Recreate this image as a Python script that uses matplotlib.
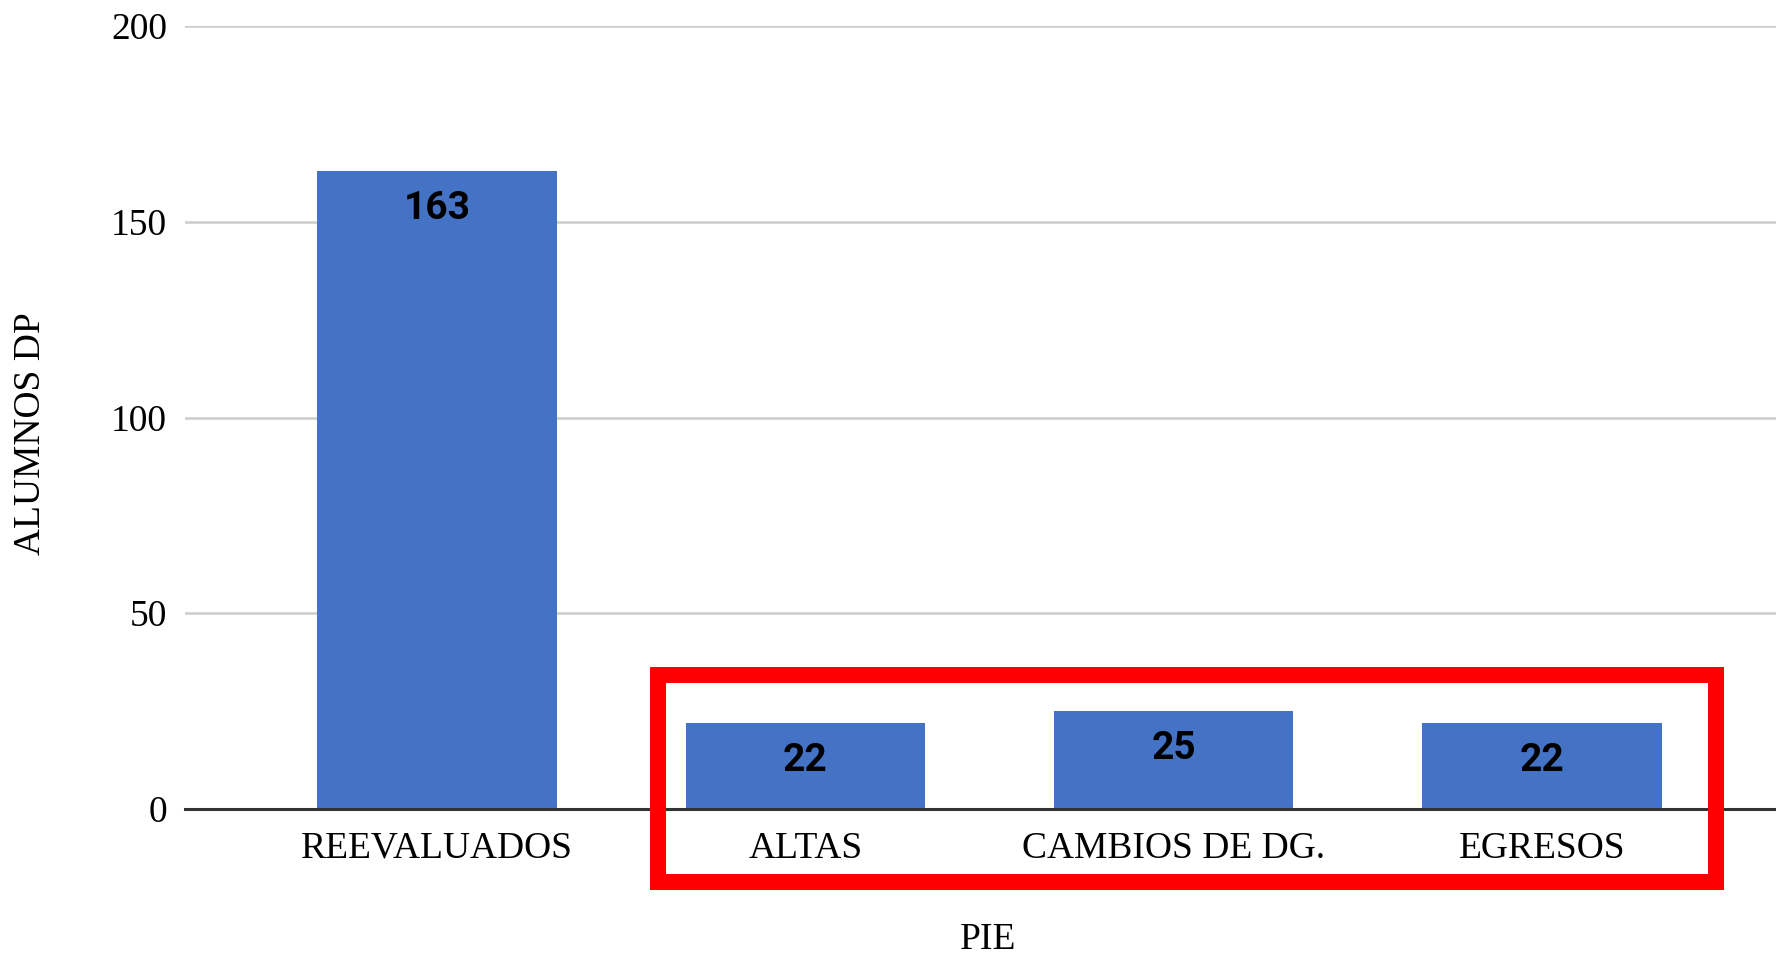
import matplotlib
matplotlib.use("Agg")
import matplotlib.pyplot as plt
from matplotlib.patches import Rectangle

categorias = ["REEVALUADOS", "ALTAS", "CAMBIOS DE DG.", "EGRESOS"]
alumnos = [163, 22, 25, 22]
yticks = [0, 50, 100, 150, 200]

azul = "#4472C4"
serif = ["Liberation Serif", "DejaVu Serif"]

fig = plt.figure(figsize=(17.76, 9.58), dpi=100)
ax = fig.add_axes([185 / 1776, 1 - 809 / 958, 1 - 185 / 1776, (809 - 26) / 958])

x = list(range(len(categorias)))
bars = ax.bar(x, alumnos, width=0.65, color=azul, zorder=2)

for b, v in zip(bars, alumnos):
    ax.annotate(str(v), (b.get_x() + b.get_width() / 2, v), xytext=(0, -27),
                textcoords="offset points", ha="center", va="center",
                fontsize=28, fontweight="bold", family=["Roboto", "DejaVu Sans"],
                color="black", zorder=3)

ax.set_xlim(-0.684, 3.635)
ax.set_ylim(0, 200)
ax.set_yticks(yticks)
ax.set_yticklabels([str(t) for t in yticks], family=serif, fontsize=27)
ax.set_xticks(x)
ax.set_xticklabels(categorias, family=serif, fontsize=27)
ax.tick_params(axis="y", length=0, pad=13)
ax.tick_params(axis="x", length=0, pad=16)

ax.grid(axis="y", color="#cccccc", linewidth=1.8, zorder=0)
for s in ["top", "right", "left"]:
    ax.spines[s].set_visible(False)
ax.spines["bottom"].set_color("#333333")
ax.spines["bottom"].set_linewidth(2.2)
ax.spines["bottom"].set_zorder(4)

ax.set_xlabel("PIE", family=serif, fontsize=27)
ax.xaxis.set_label_coords(0.505, -0.145)
ax.set_ylabel("ALUMNOS DP", family=serif, fontsize=27)
ax.yaxis.set_label_coords(-0.086, 0.48)

# recuadro rojo
fig.patches.append(Rectangle((658 / 1776, 1 - 882 / 958), (1716 - 658) / 1776, (882 - 675) / 958,
                             transform=fig.transFigure, fill=False, edgecolor="#ff0000",
                             linewidth=11.5, zorder=10))

fig.savefig("out.png", dpi=100)
